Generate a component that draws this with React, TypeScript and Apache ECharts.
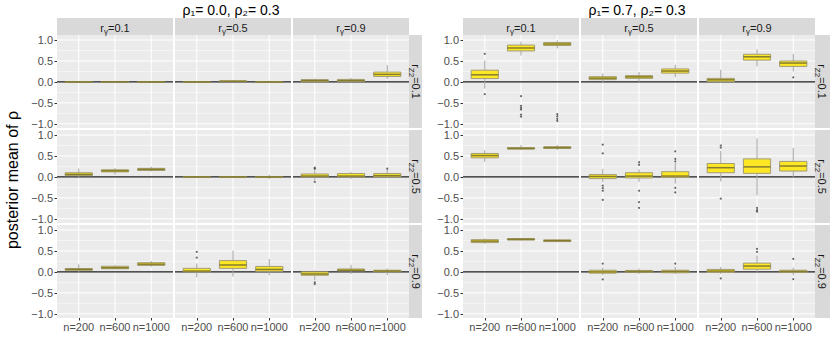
import React, { useEffect, useRef } from 'react';
import * as echarts from 'echarts';

// ---------- data ----------
const nLabels = ['n=200', 'n=600', 'n=1000'];
const gammaLabels = ['0.1', '0.5', '0.9'];
const z2Labels = ['0.1', '0.5', '0.9'];
const rho1Values = ['0.0', '0.7'];
const rho2Values = ['0.3', '0.3'];
const yTicks = [-1, -0.5, 0, 0.5, 1];
const yMinor = [-0.75, -0.25, 0.25, 0.75];

// each box: [lowerWhisker, q1, median, q3, upperWhisker]; grouped by r_gamma column, then n
// panel rho1 = 0.0
const left_z01 = [
  [[-0.01, -0.004, 0, 0.004, 0.01], [-0.006, 0, 0.004, 0.01, 0.02], [-0.008, -0.003, 0, 0.003, 0.008]],
  [[-0.008, -0.003, 0, 0.003, 0.008], [0, 0.008, 0.015, 0.025, 0.035], [-0.01, -0.003, 0, 0.003, 0.012]],
  [[-0.02, 0.005, 0.03, 0.055, 0.08], [-0.01, 0.01, 0.03, 0.06, 0.09], [0.07, 0.13, 0.18, 0.235, 0.4]],
];
const left_z05 = [
  [[0, 0.03, 0.06, 0.1, 0.2], [0.05, 0.12, 0.145, 0.17, 0.21], [0.13, 0.155, 0.18, 0.205, 0.24]],
  [[-0.01, -0.003, 0, 0.003, 0.02], [-0.008, -0.002, 0, 0.002, 0.008], [-0.05, -0.005, 0, 0.005, 0.05]],
  [[-0.08, 0, 0.02, 0.07, 0.15], [-0.05, 0, 0.02, 0.08, 0.12], [-0.03, 0, 0.03, 0.08, 0.18]],
];
const left_z09 = [
  [[0, 0.04, 0.06, 0.08, 0.18], [0.06, 0.075, 0.1, 0.135, 0.16], [0.12, 0.155, 0.185, 0.22, 0.26]],
  [[-0.13, 0, 0.02, 0.085, 0.2], [-0.11, 0.085, 0.165, 0.27, 0.51], [-0.08, 0.015, 0.06, 0.13, 0.31]],
  [[-0.2, -0.08, -0.05, 0, 0.04], [-0.05, 0.025, 0.04, 0.07, 0.17], [-0.08, 0, 0.02, 0.04, 0.08]],
];
// panel rho1 = 0.7
const right_z01 = [
  [[-0.16, 0.08, 0.17, 0.28, 0.51], [0.63, 0.74, 0.81, 0.88, 0.96], [0.8, 0.87, 0.905, 0.94, 0.99]],
  [[-0.02, 0.055, 0.09, 0.125, 0.2], [0, 0.085, 0.12, 0.15, 0.235], [0.11, 0.21, 0.26, 0.31, 0.41]],
  [[-0.02, 0.005, 0.05, 0.085, 0.29], [0.37, 0.52, 0.6, 0.66, 0.78], [0.25, 0.37, 0.45, 0.5, 0.67]],
];
const right_z05 = [
  [[0.36, 0.455, 0.51, 0.56, 0.635], [0.64, 0.665, 0.68, 0.7, 0.76], [0.64, 0.68, 0.7, 0.72, 0.76]],
  [[-0.12, -0.04, 0.01, 0.055, 0.19], [-0.12, -0.025, 0.02, 0.1, 0.18], [-0.16, -0.015, 0.02, 0.125, 0.33]],
  [[-0.11, 0.1, 0.22, 0.32, 0.62], [-0.44, 0.085, 0.24, 0.43, 0.92], [0, 0.14, 0.26, 0.37, 0.69]],
];
const right_z09 = [
  [[0.67, 0.7, 0.735, 0.77, 0.8], [0.75, 0.76, 0.78, 0.795, 0.81], [0.72, 0.725, 0.745, 0.765, 0.77]],
  [[-0.08, -0.03, 0, 0.04, 0.1], [-0.05, -0.005, 0.01, 0.035, 0.08], [-0.05, -0.02, 0.01, 0.04, 0.12]],
  [[-0.05, -0.01, 0.02, 0.06, 0.12], [0, 0.065, 0.14, 0.21, 0.39], [-0.08, -0.01, 0.01, 0.04, 0.1]],
];

// outliers: per r_gamma column, per n
const left_z01_out = [[[], [], []], [[], [], []], [[], [], []]];
const left_z05_out = [[[], [], []], [[], [], []], [[0.19, 0.22, -0.12], [], [0.2]]];
const left_z09_out = [[[], [], []], [[0.34, 0.48], [], []], [[-0.25, -0.29], [], []]];
const right_z01_out = [
  [[0.67, -0.29], [-0.34, -0.57, -0.62, -0.66, -0.78, -0.83], [-0.77, -0.82, -0.88, -0.93]],
  [[], [], []],
  [[], [], [0.11]],
];
const right_z05_out = [
  [[], [], []],
  [[0.77, 0.56, -0.21, -0.27, -0.33, -0.55], [0.35, 0.29, -0.33, -0.6, -0.74], [0.61, 0.43, 0.37, -0.26, -0.37]],
  [[0.75, 0.7, -0.52], [-0.74, -0.79, -0.83], []],
];
const right_z09_out = [
  [[], [], []],
  [[0.2, -0.18], [], [0.2]],
  [[-0.155], [0.48, 0.55], [0.31, -0.17]],
];

const panelBoxes = [
  [left_z01, left_z05, left_z09],
  [right_z01, right_z05, right_z09],
];
const panelOutliers = [
  [left_z01_out, left_z05_out, left_z09_out],
  [right_z01_out, right_z05_out, right_z09_out],
];

// ---------- layout / style ----------
const FONT = 'Liberation Sans, Arial, Helvetica, sans-serif';
const colX = [[57, 175, 293], [463, 581, 699]];
const colW = 116;
const rowTop = [35, 130, 225];
const rowH = 93;
const stripTop = 18;
const stripH = 17;
const rightStripX = [409, 815];
const rightStripW = [13, 15];
const titleX = [231, 637];

const FILL = '#FDE725';
const OUTLINE = '#A09C78';
const MEDIAN = '#857C2E';
const WHISK = '#A3A3A3';

const gridRender = (params: any, api: any) => {
  const cs = params.coordSys;
  const kind = api.value(0);
  const v = api.value(1);
  if (kind === 2) {
    const x = api.coord([v, 0])[0];
    return { type: 'line', shape: { x1: x, y1: cs.y, x2: x, y2: cs.y + cs.height }, style: { stroke: '#FFFFFF', lineWidth: 1 } };
  }
  const y = api.coord([0, v])[1];
  return {
    type: 'line',
    shape: { x1: cs.x, y1: y, x2: cs.x + cs.width, y2: y },
    style: {
      stroke: kind === 3 ? '#1A1A1A' : '#FFFFFF',
      lineWidth: kind === 1 ? 0.5 : kind === 3 ? 1.1 : 1,
    },
  };
};

const boxRender = (params: any, api: any) => {
  const x = api.value(0);
  const lw = api.coord([x, api.value(1)]);
  const q1 = api.coord([x, api.value(2)]);
  const md = api.coord([x, api.value(3)]);
  const q3 = api.coord([x, api.value(4)]);
  const uw = api.coord([x, api.value(5)]);
  const half = api.size([0.75, 0])[0] / 2;
  const cx = md[0];
  return {
    type: 'group',
    children: [
      { type: 'line', shape: { x1: cx, y1: uw[1], x2: cx, y2: q3[1] }, style: { stroke: WHISK, lineWidth: 1 } },
      { type: 'line', shape: { x1: cx, y1: q1[1], x2: cx, y2: lw[1] }, style: { stroke: WHISK, lineWidth: 1 } },
      {
        type: 'rect',
        shape: { x: cx - half, y: q3[1], width: half * 2, height: Math.max(q1[1] - q3[1], 0.3) },
        style: { fill: FILL, stroke: OUTLINE, lineWidth: 1 },
      },
      { type: 'line', shape: { x1: cx - half, y1: md[1], x2: cx + half, y2: md[1] }, style: { stroke: MEDIAN, lineWidth: 1.5 } },
    ],
  };
};

const fmtY = (v: number) => v.toFixed(1).replace('-', '\u2212');

function buildOption() {
  const grid: any[] = [];
  const xAxis: any[] = [];
  const yAxis: any[] = [];
  const series: any[] = [];
  const graphic: any[] = [];

  const gridData: number[][] = [];
  yTicks.forEach((v) => gridData.push([0, v]));
  yMinor.forEach((v) => gridData.push([1, v]));
  [0, 1, 2].forEach((v) => gridData.push([2, v]));
  gridData.push([3, 0]);

  let k = 0;
  for (let p = 0; p < 2; p++) {
    for (let r = 0; r < 3; r++) {
      for (let c = 0; c < 3; c++) {
        const isLeft = c === 0;
        const isBottom = r === 2;
        grid.push({
          left: colX[p][c], top: rowTop[r], width: colW, height: rowH,
          show: true, backgroundColor: '#EBEBEB', borderWidth: 0, containLabel: false, outerBoundsMode: 'none',
        });
        xAxis.push({
          type: 'value', gridIndex: k, min: -0.6, max: 2.6, position: 'bottom',
          splitLine: { show: false }, axisLine: { show: false, onZero: false },
          axisTick: { show: isBottom, customValues: [0, 1, 2], length: 2.5, lineStyle: { color: '#333333' } },
          axisLabel: {
            show: isBottom, customValues: [0, 1, 2], formatter: (v: number) => nLabels[Math.round(v)],
            fontSize: 11, color: '#4D4D4D', margin: 3, fontFamily: FONT,
          },
        });
        yAxis.push({
          type: 'value', gridIndex: k, min: -1.1, max: 1.12, position: 'left',
          splitLine: { show: false }, axisLine: { show: false, onZero: false },
          axisTick: { show: isLeft, customValues: yTicks, length: 2.5, lineStyle: { color: '#333333' } },
          axisLabel: {
            show: isLeft, customValues: yTicks, formatter: fmtY,
            fontSize: 11, color: '#4D4D4D', margin: 4, fontFamily: FONT,
          },
        });
        series.push({
          type: 'custom', xAxisIndex: k, yAxisIndex: k, z: 1, silent: true,
          renderItem: gridRender, data: gridData,
        });
        const boxes = panelBoxes[p][r][c];
        series.push({
          type: 'custom', xAxisIndex: k, yAxisIndex: k, z: 2, silent: true,
          renderItem: boxRender, data: boxes.map((b: number[], i: number) => [i, ...b]),
        });
        const outs: number[][] = [];
        panelOutliers[p][r][c].forEach((arr: number[], i: number) => arr.forEach((v) => outs.push([i, v])));
        if (outs.length) {
          series.push({
            type: 'scatter', xAxisIndex: k, yAxisIndex: k, z: 3, silent: true,
            symbolSize: 2, itemStyle: { color: 'rgba(30,30,30,0.85)' }, data: outs,
          });
        }
        k++;
      }
    }
  }

  const txt = (fill = '#1A1A1A') => ({ fill, fontFamily: FONT });

  for (let p = 0; p < 2; p++) {
    // title
    graphic.push({
      type: 'text', x: titleX[p], y: 10,
      style: {
        text: `\u03C1\u2081= ${rho1Values[p]}, \u03C1\u2082= ${rho2Values[p]}`,
        align: 'center', verticalAlign: 'middle',
        fill: '#000000', fontFamily: FONT, fontSize: 14,
      },
    });
    // top strips
    for (let c = 0; c < 3; c++) {
      graphic.push({
        type: 'rect', shape: { x: colX[p][c], y: stripTop, width: colW, height: stripH },
        style: { fill: '#D9D9D9' },
      });
      graphic.push({
        type: 'text', x: colX[p][c] + colW / 2, y: stripTop + stripH / 2 + 1,
        style: {
          text: `{a|r}{b|\u03B3}{a|=${gammaLabels[c]}}`,
          align: 'center', verticalAlign: 'middle',
          rich: {
            a: { ...txt(), fontSize: 11, lineHeight: 16 },
            b: { ...txt(), fontSize: 8, lineHeight: 9, verticalAlign: 'bottom' },
          },
        },
      });
    }
    // right strips
    for (let r = 0; r < 3; r++) {
      graphic.push({
        type: 'rect', shape: { x: rightStripX[p], y: rowTop[r], width: rightStripW[p], height: rowH },
        style: { fill: '#D9D9D9' },
      });
      graphic.push({
        type: 'text', x: rightStripX[p] + 6.5, y: rowTop[r] + rowH / 2, rotation: -Math.PI / 2,
        style: {
          text: `{a|r}{b|Z2}{a|=${z2Labels[r]}}`,
          align: 'center', verticalAlign: 'middle',
          rich: {
            a: { ...txt(), fontSize: 11, lineHeight: 16 },
            b: { ...txt(), fontSize: 8, lineHeight: 9, verticalAlign: 'bottom' },
          },
        },
      });
    }
  }
  // y axis title
  graphic.push({
    type: 'text', x: 12, y: 180, rotation: Math.PI / 2,
    style: { text: 'posterior mean of \u03C1', fill: '#000000', fontFamily: FONT, fontSize: 16, align: 'center', verticalAlign: 'middle' },
  });

  return {
    animation: false,
    backgroundColor: '#FFFFFF',
    textStyle: { fontFamily: FONT },
    grid, xAxis, yAxis, series, graphic,
  };
}

export default function App() {
  const ref = useRef<HTMLDivElement>(null);
  useEffect(() => {
    if (!ref.current) return;
    const chart = echarts.init(ref.current, undefined, { renderer: 'svg' });
    chart.setOption(buildOption() as any);
    return () => chart.dispose();
  }, []);
  return (
    <div
      ref={ref}
      style={{ position: 'fixed', left: 0, top: 0, width: 830, height: 346, background: '#fff' }}
    />
  );
}
